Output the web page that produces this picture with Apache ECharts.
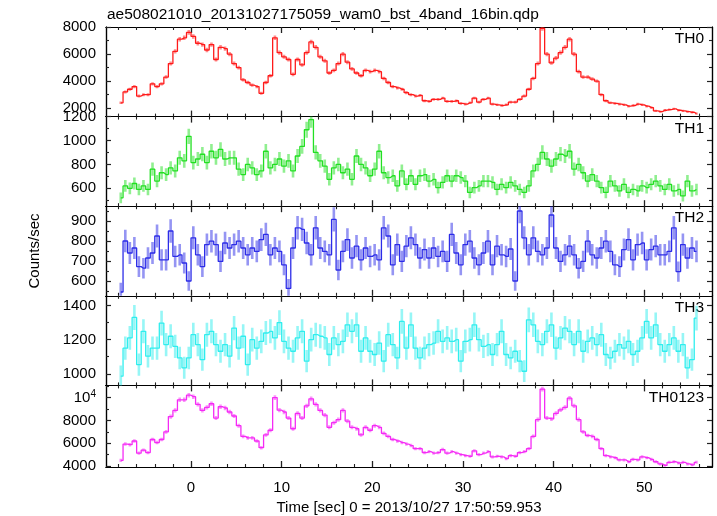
<!DOCTYPE html>
<html><head><meta charset="utf-8">
<script src="https://cdn.jsdelivr.net/npm/echarts@6/dist/echarts.min.js"></script>
<style>html,body{margin:0;padding:0;background:#fff}#c{width:717px;height:516px}</style>
</head><body><div id="c"></div>
<script>
const TITLE = 'ae508021010_20131027175059_wam0_bst_4band_16bin.qdp';
const X_NAME = 'Time [sec] 0 = 2013/10/27 17:50:59.953';
const Y_NAME = 'Counts/sec';
const BAND_NAMES = ['TH0', 'TH1', 'TH2', 'TH3', 'TH0123'];
const BAND_COLORS = ['#ff1a1a', '#22e022', '#2c2ce8', '#2eeeee', '#f52af5'];

// bin centres (s): first bin centre and bin width
const BIN_START = -7.75;
const BIN_STEP = 0.5;
// bin width of the original light curve, used for Poisson error bars
const ERR_BIN_SEC = 0.25;

const TH0 = [
  2400, 3200, 3400, 3600, 2900, 3000, 3000, 3800, 3600, 3800,
  4300, 5300, 6200, 7100, 7200, 7600, 7300, 6800, 6700, 6300,
  6700, 5600, 6500, 6400, 6000, 5300, 5000, 4100, 3900, 3700,
  3600, 3100, 3900, 4400, 7200, 6100, 5800, 5600, 4500, 5600,
  5200, 6100, 6900, 6500, 5800, 5500, 4600, 4800, 5300, 6000,
  5400, 4900, 4600, 4400, 4800, 4700, 4800, 4700, 4200, 3900,
  3600, 3500, 3400, 3150, 3000, 2900, 2950, 2550, 2500, 2650,
  2650, 2750, 2500, 2500, 2550, 2350, 2300, 2400, 2750, 2450,
  2650, 2750, 2300, 2250, 2200, 2250, 2450, 2450, 2650, 2900,
  3400, 4200, 5300, 7900, 6000, 5350, 5700, 6100, 6500, 7100,
  6000, 4700, 4300, 4300, 4150, 4000, 3000, 2550, 2400, 2350,
  2300, 2250, 2150, 2200, 2300, 2250, 2150, 2050, 1800, 1750,
  1850, 1900, 1950, 1850, 1800, 1750, 1700, 1600
];
const TH1 = [
  520, 620, 600, 640, 590, 620, 590, 760, 660, 730,
  715, 770, 745, 855, 830, 1035, 815, 845, 885, 815,
  910, 855, 925, 845, 855, 855, 760, 715, 800, 770,
  715, 745, 910, 770, 800, 845, 785, 830, 745, 870,
  950, 1090, 1175, 900, 830, 785, 675, 770, 800, 730,
  760, 675, 870, 800, 770, 705, 760, 910, 730, 690,
  705, 620, 745, 633, 705, 633, 705, 715, 660, 675,
  605, 650, 705, 660, 705, 690, 660, 565, 605, 620,
  660, 660, 650, 590, 633, 605, 650, 620, 590, 565,
  620, 745, 800, 900, 845, 785, 845, 885, 870, 910,
  760, 800, 730, 660, 715, 660, 605, 565, 660, 620,
  578, 633, 565, 590, 578, 620, 605, 633, 660, 620,
  590, 633, 578, 590, 536, 660, 578, 590
];
const TH2 = [
  545, 800, 740, 765, 672, 664, 715, 740, 825, 706,
  706, 850, 723, 731, 690, 600, 816, 731, 672, 782,
  799, 782, 698, 790, 765, 782, 799, 765, 731, 765,
  748, 807, 833, 731, 765, 748, 681, 563, 765, 866,
  858, 790, 731, 866, 765, 748, 731, 908, 655, 748,
  807, 715, 774, 706, 765, 723, 731, 706, 866, 825,
  681, 782, 698, 774, 816, 782, 715, 757, 715, 765,
  723, 748, 698, 833, 740, 681, 782, 799, 715, 681,
  740, 799, 681, 774, 731, 723, 760, 600, 950, 816,
  731, 816, 748, 731, 765, 930, 765, 698, 731, 774,
  731, 664, 698, 799, 731, 715, 765, 799, 748, 681,
  672, 757, 807, 706, 782, 790, 706, 757, 774, 731,
  731, 748, 866, 647, 782, 715, 765, 748
];
const TH3 = [
  986, 1150, 1210, 1330, 1054, 1249, 1103, 1150, 1150, 1297,
  1171, 1220, 1161, 1093, 1035, 1093, 1229, 1171, 1083, 1229,
  1249, 1171, 1132, 1171, 1103, 1268, 1150, 1220, 1054, 1200,
  1150, 1190, 1239, 1249, 1210, 1300, 1190, 1150, 1132, 1210,
  1249, 1074, 1200, 1229, 1220, 1210, 1113, 1210, 1171, 1190,
  1287, 1249, 1287, 1132, 1210, 1132, 1113, 1180, 1074, 1229,
  1171, 1093, 1307, 1150, 1287, 1150, 1093, 1150, 1171, 1180,
  1249, 1190, 1210, 1190, 1200, 1074, 1190, 1200, 1287, 1200,
  1161, 1171, 1113, 1171, 1249, 1113, 1093, 1132, 1074, 1015,
  1316, 1287, 1190, 1171, 1249, 1287, 1150, 1210, 1268, 1249,
  1171, 1249, 1132, 1190, 1210, 1171, 1229, 1113, 1093, 1132,
  1171, 1150, 1190, 1113, 1132, 1210, 1307, 1210, 1287, 1171,
  1132, 1171, 1210, 1132, 1171, 1035, 1083, 1326
];
const TH0123 = [
  4500, 5930, 5880, 6200, 5130, 5400, 5180, 6330, 6060, 6330,
  7000, 8340, 8880, 9810, 9810, 10210, 10080, 9410, 8880, 9140,
  9460, 8210, 9200, 9090, 8740, 8390, 7540, 6600, 6470, 6470,
  6200, 5610, 6730, 7140, 10000, 8900, 8740, 8210, 7270, 8610,
  8210, 9280, 9890, 9410, 8880, 8470, 7400, 7800, 8070, 8880,
  7940, 7400, 7270, 6730, 7400, 7140, 7540, 7400, 6870, 6600,
  6330, 6200, 6060, 5930, 5800, 5530, 5530, 5180, 5260, 5130,
  5180, 5450, 5130, 5260, 5130, 5000, 4910, 4860, 5340, 5000,
  5130, 5260, 4810, 4860, 4810, 4650, 4910, 4860, 5180, 5260,
  5530, 6600, 8070, 10750, 8210, 8130, 8610, 8930, 9140, 9950,
  9280, 8070, 7000, 6680, 6600, 6330, 5530, 4910, 4810, 4730,
  4540, 4540, 4380, 4590, 4540, 4810, 4730, 4590, 4380, 4190,
  4060, 4330, 4380, 4270, 4330, 4190, 4110, 4330
];
const BANDS = [TH0, TH1, TH2, TH3, TH0123];

// axes
const X_MIN = -9.38, X_MAX = 57.46;
const X_MAJOR = [0, 10, 20, 30, 40, 50];
const X_MINOR = [-8, -6, -4, -2, 2, 4, 6, 8, 12, 14, 16, 18, 22, 24, 26, 28, 32, 34, 36, 38,
                 42, 44, 46, 48, 52, 54, 56];
const Y_MIN = [1380, 450, 526, 932, 3920];
const Y_MAX = [8000, 1200, 974, 1457, 11070];
const Y_MAJOR = [
  [2000, 4000, 6000, 8000],
  [600, 800, 1000, 1200],
  [600, 700, 800, 900],
  [1000, 1200, 1400],
  [4000, 6000, 8000, 10000]
];
const Y_MINOR = [
  [3000, 5000, 7000],
  [500, 700, 900, 1100],
  [550, 650, 750, 850, 950],
  [1100, 1300],
  [5000, 7000, 9000, 11000]
];

const FONT = 'Liberation Sans, Arial, sans-serif';
const PANEL_TOP = 27, PANEL_H = 89.6, PLOT_LEFT = 106, PLOT_W = 606;

const grids = [], xAxes = [], yAxes = [], series = [], graphics = [];
const axisLine = { show: true, onZero: false, lineStyle: { color: '#000', width: 1.2 } };

BANDS.forEach((vals, k) => {
  const top = PANEL_TOP + k * PANEL_H;
  grids.push({ left: PLOT_LEFT, width: PLOT_W, top: top, height: PANEL_H });
  const xBase = { type: 'value', gridIndex: k, min: X_MIN, max: X_MAX, splitLine: { show: false }, axisLine: axisLine };
  const xi = xAxes.length;
  xAxes.push(Object.assign({}, xBase, {
    position: 'bottom',
    axisTick: { inside: true, length: 6, customValues: X_MAJOR, lineStyle: { color: '#222', width: 1.3 } },
    axisLabel: k === 4 ? { show: true, customValues: X_MAJOR, fontSize: 15, fontFamily: FONT, color: '#000', margin: 13 } : { show: false },
    name: k === 4 ? X_NAME : '', nameLocation: 'middle', nameGap: 33,
    nameTextStyle: { fontSize: 15, fontFamily: FONT, color: '#000' }
  }));
  xAxes.push(Object.assign({}, xBase, { position: 'bottom', axisLabel: { show: false },
    axisTick: { inside: true, length: 3, customValues: X_MINOR, lineStyle: { color: '#222', width: 1.1 } } }));
  xAxes.push(Object.assign({}, xBase, { position: 'top', axisLabel: { show: false },
    axisTick: { inside: true, length: 6, customValues: X_MAJOR, lineStyle: { color: '#222', width: 1.3 } } }));
  xAxes.push(Object.assign({}, xBase, { position: 'top', axisLabel: { show: false },
    axisTick: { inside: true, length: 3, customValues: X_MINOR, lineStyle: { color: '#222', width: 1.1 } } }));

  const yBase = { type: 'value', gridIndex: k, min: Y_MIN[k], max: Y_MAX[k], splitLine: { show: false }, axisLine: axisLine };
  const yi = yAxes.length;
  yAxes.push(Object.assign({}, yBase, {
    position: 'left',
    axisTick: { inside: true, length: 5, customValues: Y_MAJOR[k], lineStyle: { color: '#222', width: 1.2 } },
    axisLabel: { show: true, customValues: Y_MAJOR[k], fontSize: 15, fontFamily: FONT, color: '#000', margin: 10,
      formatter: v => (v === 10000 ? '10{sup|4}' : String(v)),
      rich: { sup: { fontSize: 10, fontFamily: FONT, color: '#000', verticalAlign: 'top', padding: [0, 0, 6, 0] } } },
    name: k === 2 ? Y_NAME : '', nameLocation: 'middle', nameGap: 64, nameRotate: 90,
    nameTextStyle: { fontSize: 15, fontFamily: FONT, color: '#000' }
  }));
  yAxes.push(Object.assign({}, yBase, { position: 'left', axisLabel: { show: false },
    axisTick: { inside: true, length: 3, customValues: Y_MINOR[k], lineStyle: { color: '#222', width: 1.1 } } }));
  yAxes.push(Object.assign({}, yBase, { position: 'right', axisLabel: { show: false },
    axisTick: { inside: true, length: 5, customValues: Y_MAJOR[k], lineStyle: { color: '#222', width: 1.2 } } }));
  yAxes.push(Object.assign({}, yBase, { position: 'right', axisLabel: { show: false },
    axisTick: { inside: true, length: 3, customValues: Y_MINOR[k], lineStyle: { color: '#222', width: 1.1 } } }));

  const pts = vals.map((v, i) => [BIN_START + i * BIN_STEP, v]);
  const color = BAND_COLORS[k];
  series.push({
    type: 'custom', name: BAND_NAMES[k] + ' err', xAxisIndex: xi, yAxisIndex: yi, clip: true, silent: true, z: 2,
    data: vals.map((v, i) => {
      const e = Math.sqrt(v / ERR_BIN_SEC);
      return [BIN_START + i * BIN_STEP, v - e, v + e];
    }),
    encode: { x: 0, y: [1, 2] },
    renderItem: (params, api) => {
      const a = api.coord([api.value(0), api.value(1)]);
      const b = api.coord([api.value(0), api.value(2)]);
      return { type: 'line', shape: { x1: a[0], y1: a[1], x2: b[0], y2: b[1] },
        style: { stroke: color, lineWidth: 2.6, opacity: 0.5 } };
    }
  });
  series.push({
    type: 'line', name: BAND_NAMES[k], xAxisIndex: xi, yAxisIndex: yi, data: pts, step: 'middle',
    showSymbol: false, symbol: 'none', z: 3, lineStyle: { color: color, width: 1.3 }, silent: true
  });

  graphics.push({ type: 'text', right: 13, top: top + 4,
    style: { text: BAND_NAMES[k], font: '15.5px ' + FONT, fill: '#000' } });
});

graphics.push({ type: 'text', left: 107, top: 7, style: { text: TITLE, font: '15.5px ' + FONT, fill: '#000' } });

const chart = echarts.init(document.getElementById('c'), null, { renderer: 'canvas' });
chart.setOption({
  animation: false,
  backgroundColor: '#fff',
  grid: grids,
  xAxis: xAxes,
  yAxis: yAxes,
  series: series,
  graphic: graphics
});
</script>
</body></html>
